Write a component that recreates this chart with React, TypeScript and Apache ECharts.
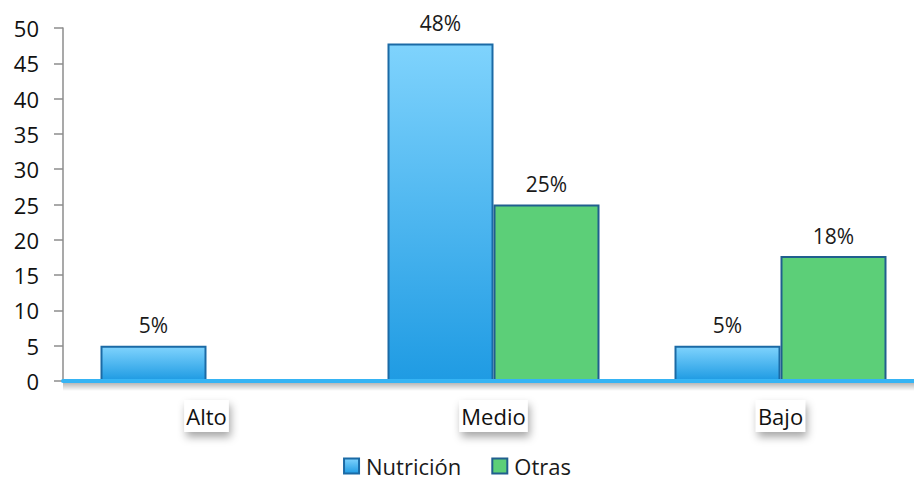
import React, { useEffect, useRef } from "react";
import * as echarts from "echarts";

const categories = ["Alto", "Medio", "Bajo"];
const nutricion = [5, 47.8, 5];
const otras = [null, 25, 17.7];
const yTicks = { min: 0, max: 50, interval: 5 };

const FONT = "'Open Sans', Lato, sans-serif";

export default function App() {
  const ref = useRef<HTMLDivElement>(null);
  useEffect(() => {
    const chart = echarts.init(ref.current!, null, { renderer: "svg" });
    const labelCfg = {
      show: true,
      position: "top",
      distance: 10,
      color: "#1a1a1a",
      fontSize: 21,
      fontFamily: FONT,
      formatter: (p: any) => Math.round(p.value) + "%",
    };
    chart.setOption({
      animation: false,
      backgroundColor: "#ffffff",
      grid: { left: 63, top: 28, bottom: 102, width: 861, outerBoundsMode: "none", containLabel: false },
      legend: {
        bottom: 1,
        left: "center",
        itemWidth: 15,
        itemHeight: 15,
        itemGap: 30,
        icon: "rect",
        textStyle: { fontSize: 22, fontFamily: FONT, color: "#1a1a1a", padding: [0, 0, 0, 2] },
        data: ["Nutrición", "Otras"],
      },
      graphic: [
        {
          type: "rect",
          left: 63,
          top: 383,
          shape: { width: 851, height: 8 },
          style: {
            fill: new echarts.graphic.LinearGradient(0, 0, 0, 1, [
              { offset: 0, color: "rgba(0,0,0,0.28)" },
              { offset: 1, color: "rgba(0,0,0,0)" },
            ]),
          },
          z: 0,
        },
      ],
      xAxis: {
        type: "category",
        data: categories,
        axisLine: {
          show: true,
          lineStyle: { color: "#36b4f4", width: 4 },
        },
        axisTick: { show: false },
        axisLabel: {
          margin: 19,
          fontSize: 22,
          fontFamily: FONT,
          color: "#111",
          backgroundColor: "#ffffff",
          padding: [5, 2, 5, 2],
          shadowColor: "rgba(0,0,0,0.35)",
          shadowBlur: 8,
          shadowOffsetX: 2,
          shadowOffsetY: 5,
        },
        z: 5,
      },
      yAxis: {
        type: "value",
        min: yTicks.min,
        max: yTicks.max,
        interval: yTicks.interval,
        axisLine: { show: true, lineStyle: { color: "#8c8c8c", width: 1.5 } },
        axisTick: { show: true, length: 9, lineStyle: { color: "#8c8c8c", width: 1.5 } },
        splitLine: { show: false },
        axisLabel: { margin: 24, fontSize: 22, fontFamily: FONT, color: "#111" },
      },
      series: [
        {
          name: "Nutrición",
          type: "bar",
          data: nutricion,
          barWidth: 106,
          barGap: "0%",
          itemStyle: {
            color: new echarts.graphic.LinearGradient(0, 0, 0, 1, [
              { offset: 0, color: "#7fd3fd" },
              { offset: 1, color: "#1f9be3" },
            ]),
            borderColor: "#1b6aa5",
            borderWidth: 2,
          },
          label: labelCfg,
        },
        {
          name: "Otras",
          type: "bar",
          data: otras,
          barWidth: 106,
          barGap: "0%",
          itemStyle: {
            color: "#5ccf78",
            borderColor: "#205f8e",
            borderWidth: 2,
          },
          label: labelCfg,
        },
      ],
    });
    return () => chart.dispose();
  }, []);
  return <div ref={ref} style={{ width: 914, height: 483, position: "absolute", left: 0, top: 0 }} />;
}
